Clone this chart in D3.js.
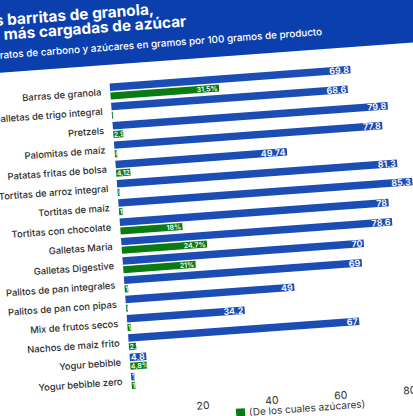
<!DOCTYPE html>
<html>
<head>
<meta charset="utf-8">
<script src="https://cdn.jsdelivr.net/npm/d3@7"></script>
<style>
  html, body { margin: 0; padding: 0; background: #fff; overflow: hidden; }
  svg { display: block; font-family: Inter, "Open Sans", sans-serif; }
</style>
</head>
<body>
<div id="chart"></div>
<script>
const categories = [
  "Barras de granola", "Galletas de trigo integral", "Pretzels", "Palomitas de maíz",
  "Patatas fritas de bolsa", "Tortitas de arroz integral", "Tortitas de maíz",
  "Tortitas con chocolate", "Galletas María", "Galletas Digestive",
  "Palitos de pan integrales", "Palitos de pan con pipas", "Mix de frutos secos",
  "Nachos de maíz frito", "Yogur bebible", "Yogur bebible zero"
]
// hidratos de carbono (g / 100 g)
const carbs = [69.8, 68.6, 79.8, 77.8, 49.74, 81.3, 85.3, 78, 78.6, 70, 69, 49, 34.2, 67, 4.8, 1]
// de los cuales azúcares
const sugars = [31.5, 0.3, 2.9, 0.7, 4.12, 0.6, 1, 18, 24.7, 21, 1, 0.5, 1, 2.1, 4.8, 1]
const sugarLabels = ["31,5%", "0,3", "2,9", "0,7", "4,12", "0,6", "1", "18%", "24,7%", "21%", "1", "0,5", "1", "2,1", "4,8%", "1"]
const tickValues = [20, 40, 60, 80, 100]

const width = 413, height = 416
const blue = "#1b4db4", green = "#0a7b12", header = "#0c3fae"
const fmt = v => String(v).replace(".", ",")

const svg = d3.select("#chart").append("svg")
  .attr("width", width)
  .attr("height", height)
  .attr("viewBox", [0, 0, width, height])

// toda la figura viene girada en la foto
const g = svg.append("g").attr("transform", "rotate(-4.2, 206, 208)")

// cabecera
g.append("rect")
  .attr("x", -80).attr("y", -80)
  .attr("width", 620).attr("height", 138)
  .attr("fill", header)

const title = ["Las barritas de granola,", "las más cargadas de azúcar"]
g.selectAll(".title")
  .data(title)
  .join("text")
  .attr("class", "title")
  .attr("x", -8.5)
  .attr("y", (d, i) => 11 + i * 14.5)
  .attr("fill", "white")
  .attr("font-size", "15.4px")
  .attr("font-weight", 700)
  .text(d => d)

g.append("text")
  .attr("x", -4.5)
  .attr("y", 44)
  .attr("fill", "white")
  .attr("font-size", "9.9px")
  .attr("font-weight", 500)
  .text("Hidratos de carbono y azúcares en gramos por 100 gramos de producto")

// escalas
const x = d3.scaleLinear().domain([0, 100]).range([119, 464.5])
const y = d3.scaleBand().domain(categories).range([75.1, 75.1 + 16 * 19.35])
const barH = 7.5, sugarH = 7, inner = 1.5

const defs = svg.append("defs")

const rows = g.append("g")
  .selectAll("g")
  .data(categories)
  .join("g")
  .attr("transform", d => `translate(0,${y(d)})`)

// etiquetas de categoría
rows.append("text")
  .attr("x", 110)
  .attr("y", y.bandwidth() / 2)
  .attr("dy", "0.35em")
  .attr("text-anchor", "end")
  .attr("fill", "#2e2e2e")
  .attr("font-size", "9.4px")
  .attr("font-weight", 500)
  .text(d => d)

const top0 = (y.bandwidth() - (barH + inner + sugarH)) / 2

function drawBar(sel, values, labels, color, yOff, h, key, fs) {
  sel.each(function(d, i) {
    const row = d3.select(this)
    const w = x(values[i]) - x(0)
    const id = `clip-${key}-${i}`
    defs.append("clipPath").attr("id", id)
      .append("rect")
      .attr("x", x(0)).attr("y", 0)
      .attr("width", w).attr("height", h)
    const bar = row.append("g").attr("transform", `translate(0,${yOff})`)
    bar.append("rect")
      .attr("x", x(0)).attr("y", 0)
      .attr("width", w).attr("height", h)
      .attr("fill", color)
    // etiqueta al final de la barra; si no cabe, empieza en el origen y se recorta
    const t = bar.append("text")
      .attr("clip-path", `url(#${id})`)
      .attr("y", h / 2)
      .attr("dy", "0.36em")
      .attr("fill", "white")
      .attr("font-size", fs)
      .attr("font-weight", 600)
      .text(labels[i])
    const tw = t.node().getComputedTextLength()
    t.attr("x", Math.max(x(0) + 0.5, x(values[i]) - 1.5 - tw))
  })
}

drawBar(rows, carbs, carbs.map(fmt), blue, top0, barH, "c", "9px")
drawBar(rows, sugars, sugarLabels, green, top0 + barH + inner, sugarH, "s", "7px")

// eje
const axis = g.append("g")
  .attr("transform", "translate(0,397)")
  .call(d3.axisBottom(x).tickValues(tickValues).tickSize(0).tickPadding(4))
axis.select(".domain").remove()
axis.selectAll("text")
  .attr("fill", "#333")
  .attr("font-size", "10.5px")
  .attr("font-family", "Inter, 'Open Sans', sans-serif")

// leyenda
g.append("rect")
  .attr("x", 221).attr("y", 410.5)
  .attr("width", 9).attr("height", 9)
  .attr("fill", green)
g.append("text")
  .attr("x", 234).attr("y", 418.5)
  .attr("fill", "#333")
  .attr("font-size", "10px")
  .text("(De los cuales azúcares)")
</script>
</body>
</html>
